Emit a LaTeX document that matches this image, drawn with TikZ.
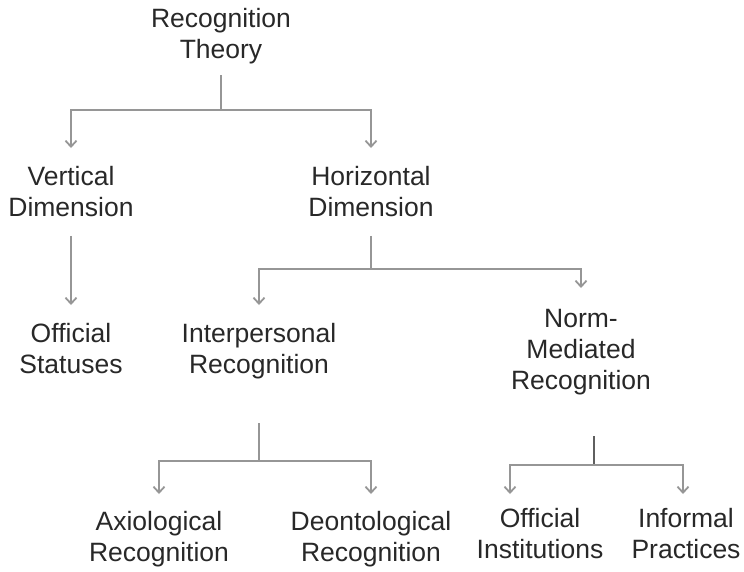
\documentclass[tikz,border=0pt]{standalone}
\usepackage{fontspec}
\setmainfont{Liberation Sans}
\usetikzlibrary{arrows.meta}
\definecolor{linegray}{RGB}{150,150,150}
\definecolor{stemgray}{RGB}{95,95,95}
\definecolor{textgray}{RGB}{40,40,40}

\begin{document}
\begin{tikzpicture}[x=1pt,y=-1pt,
  term/.style={anchor=north,align=center,inner sep=0pt,text=textgray,
    font=\fontsize{26.5}{31}\selectfont},
  link/.style={draw=linegray,line width=1.8pt},
  stem/.style={draw=stemgray,line width=2.4pt},
  arrow/.style={link,-{Straight Barb[length=6pt,width=11pt]}}]
\useasboundingbox (0,0) rectangle (744,571);
\node[term] (theory) at (221,8) {Recognition\\Theory};
\node[term] (vert) at (71,166) {Vertical\\Dimension};
\node[term] (horiz) at (371,166) {Horizontal\\Dimension};
\node[term] (stat) at (71,323) {Official\\Statuses};
\node[term] (interp) at (259,323) {Interpersonal\\Recognition};
\node[term] (norm) at (581,309) {Norm-\\Mediated\\Recognition};
\node[term] (axio) at (159,511) {Axiological\\Recognition};
\node[term] (deon) at (371,511) {Deontological\\Recognition};
\node[term] (inst) at (540,508) {Official\\Institutions};
\node[term] (infor) at (686,508) {Informal\\Practices};
\coordinate (j1) at (221,110);
\coordinate (j2) at (371,269);
\coordinate (j3) at (259,461);
\coordinate (j4) at (594,465);
\draw[link,shorten <=11pt] (theory.south) -- (j1);
\draw[arrow,shorten >=18pt] (j1) -| (vert.north);
\draw[arrow,shorten >=18pt] (j1) -| (horiz.north);
\draw[arrow,shorten <=19pt,shorten >=18pt] (vert.south) -- (stat.north);
\draw[link,shorten <=19pt] (horiz.south) -- (j2);
\draw[arrow,shorten >=18pt] (j2) -| (interp.north);
\draw[arrow,shorten >=21pt] (j2) -| (norm.north);
\draw[link,shorten <=44pt] (interp.south) -- (j3);
\draw[arrow,shorten >=17pt] (j3) -| (axio.north);
\draw[arrow,shorten >=17pt] (j3) -| (deon.north);
\draw[stem,shorten <=41pt] (norm.south -| j4) -- (j4);
\draw[arrow,shorten >=14pt] (j4) -| ([xshift=-30pt]inst.north);
\draw[arrow,shorten >=14pt] (j4) -| ([xshift=-3pt]infor.north);
\end{tikzpicture}
\end{document}
